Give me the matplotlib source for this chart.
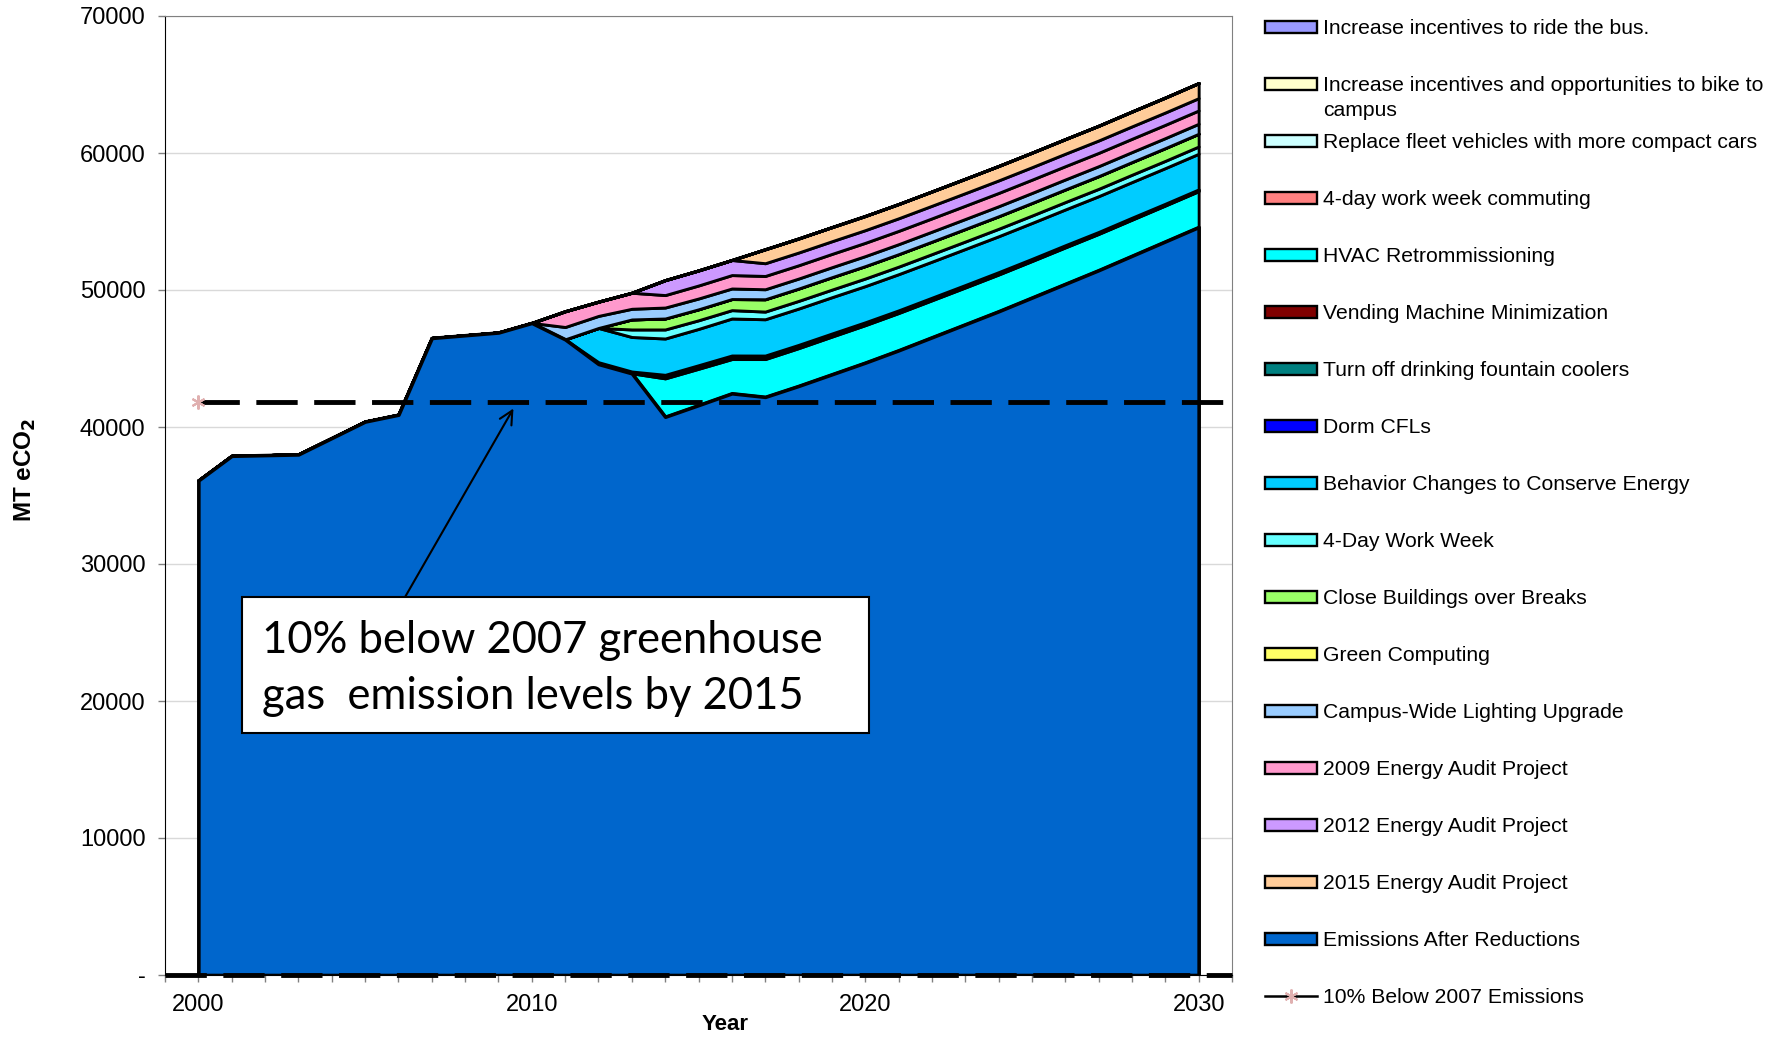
import matplotlib
matplotlib.use("Agg")
import matplotlib.pyplot as plt
from matplotlib.patches import Rectangle
from matplotlib.lines import Line2D

plt.rcParams['font.family'] = ['Liberation Sans', 'DejaVu Sans']

# ---- data (MT eCO2) ----
years = list(range(2000, 2031))

emissions_after = [36100, 37900, 37950, 38000, 39200, 40400, 40900, 46500, 46700, 46900,
                   47600, 46400, 44600, 43920, 40750, 41600, 42460, 42200, 43000, 43850,
                   44700, 45600, 46550, 47500, 48450, 49450, 50450, 51450, 52500, 53550, 54600]

pre = [0] * 10  # 2000-2009, no reductions yet
hvac = pre + [0, 0, 0, 0, 2800, 2650, 2500, 2760, 2755, 2750, 2735, 2720, 2700, 2685, 2680,
              2665, 2660, 2645, 2635, 2620, 2615]
vending = pre + [0, 0, 40, 40, 80, 80, 80, 80, 75, 70, 65, 60, 60, 55, 55, 50, 50, 45, 45, 40, 40]
fountain = pre + [0, 0, 40, 40, 80, 80, 80, 80, 75, 70, 65, 60, 60, 55, 55, 50, 50, 45, 45, 40, 40]
dorm_cfl = pre + [0, 0, 50, 50, 100, 100, 100, 95, 90, 85, 80, 75, 70, 70, 65, 60, 60, 55, 55, 50, 50]
behavior = pre + [0, 0, 2500, 2520, 2650, 2650, 2700, 2650, 2650, 2650, 2640, 2640, 2630, 2630,
                  2620, 2620, 2610, 2610, 2600, 2600, 2600]
four_day = pre + [0, 0, 0, 550, 660, 630, 610, 560, 560, 555, 555, 550, 550, 545, 545, 540, 540,
                  535, 535, 530, 530]
close_bldg = pre + [0, 0, 0, 730, 800, 800, 810, 900, 900, 905, 905, 910, 910, 915, 915, 920, 920,
                    925, 925, 930, 930]
green_comp = [0] * 31
lighting = pre + [0, 900, 880, 780, 800, 790, 770, 730, 730, 730, 730, 730, 730, 730, 730, 730,
                  730, 730, 730, 730, 730]
audit_2009 = pre + [0, 1150, 1040, 1170, 910, 950, 980, 970, 970, 970, 970, 970, 970, 970, 970,
                    970, 970, 970, 970, 970, 970]
audit_2012 = pre + [0, 0, 0, 0, 1090, 1100, 1100, 930, 930, 925, 925, 920, 920, 915, 915, 910,
                    910, 905, 905, 900, 900]
audit_2015 = pre + [0, 0, 0, 0, 0, 0, 0, 1020, 1025, 1030, 1035, 1040, 1045, 1050, 1055, 1060,
                    1065, 1075, 1085, 1090, 1100]
commute_4day = [0] * 31
fleet = [0] * 31
bike = [0] * 31
bus = [0] * 31

target_value = 41800  # 10% below 2007
target_start = 2000

# stacking order, bottom to top
stack = [
    ("Emissions After Reductions", emissions_after, "#0066CC"),
    ("HVAC Retrommissioning", hvac, "#00FFFF"),
    ("Vending Machine Minimization", vending, "#800000"),
    ("Turn off drinking fountain coolers", fountain, "#008080"),
    ("Dorm CFLs", dorm_cfl, "#0000FF"),
    ("Behavior Changes to Conserve Energy", behavior, "#00CCFF"),
    ("4-Day Work Week", four_day, "#66FFFF"),
    ("Close Buildings over Breaks", close_bldg, "#99FF66"),
    ("Green Computing", green_comp, "#FFFF66"),
    ("Campus-Wide Lighting Upgrade", lighting, "#99CCFF"),
    ("2009 Energy Audit Project", audit_2009, "#FF99CC"),
    ("2012 Energy Audit Project", audit_2012, "#CC99FF"),
    ("2015 Energy Audit Project", audit_2015, "#FFCC99"),
    ("4-day work week commuting", commute_4day, "#FF8080"),
    ("Replace fleet vehicles with more compact cars", fleet, "#CCFFFF"),
    ("Increase incentives and opportunities to bike to\ncampus", bike, "#FFFFCC"),
    ("Increase incentives to ride the bus.", bus, "#9999FF"),
]
color_of = {name: c for name, _, c in stack}

legend_order = [
    "Increase incentives to ride the bus.",
    "Increase incentives and opportunities to bike to\ncampus",
    "Replace fleet vehicles with more compact cars",
    "4-day work week commuting",
    "HVAC Retrommissioning",
    "Vending Machine Minimization",
    "Turn off drinking fountain coolers",
    "Dorm CFLs",
    "Behavior Changes to Conserve Energy",
    "4-Day Work Week",
    "Close Buildings over Breaks",
    "Green Computing",
    "Campus-Wide Lighting Upgrade",
    "2009 Energy Audit Project",
    "2012 Energy Audit Project",
    "2015 Energy Audit Project",
    "Emissions After Reductions",
]

W, H = 1782, 1037
AX_L, AX_R, AX_T, AX_B = 165, 1232, 16, 975
fig = plt.figure(figsize=(W / 100, H / 100), dpi=100)
ax = fig.add_axes([AX_L / W, 1 - AX_B / H, (AX_R - AX_L) / W, (AX_B - AX_T) / H])

polys = ax.stackplot(years, *[s[1] for s in stack], colors=[s[2] for s in stack],
                     edgecolor='black', linewidth=2.1, zorder=2)
# base series outline is the boldest one, keep it on top of the others
polys[0].set_linewidth(2.6)
polys[0].set_zorder(2.5)

# target line and zero line
dash = (8.5, 3.4)
ax.plot([target_start, 2031], [target_value, target_value], color='black', lw=3.5,
        dashes=dash, zorder=3, clip_on=False)
ax.plot([target_start], [target_value], linestyle='none', marker=(6, 2, 0), markersize=10,
        markeredgewidth=1.5, color='#E0B0B0', zorder=4)
ax.axhline(0, color='black', lw=3.5, dashes=dash, zorder=3, clip_on=False)

# callout
px_per_unit = (AX_B - AX_T) / 70000
def yv(py):
    return (AX_B - py) / px_per_unit

ax.annotate('', xy=(2009.45, 41350), xytext=(2006.2, yv(597)),
            arrowprops=dict(arrowstyle='->', color='black', lw=1.5, mutation_scale=24,
                            shrinkA=0, shrinkB=0), zorder=5)
ax.add_patch(Rectangle((2001.3, yv(733)), 2020.1 - 2001.3, yv(597) - yv(733),
                       facecolor='white', edgecolor='black', lw=1.5, zorder=6))
ax.text(2001.92, yv(653), "10% below 2007 greenhouse", family='Lato',
        fontsize=31.4, va='baseline', ha='left', zorder=7)
ax.text(2001.92, yv(709), "gas  emission levels by 2015", family='Lato',
        fontsize=31.4, va='baseline', ha='left', zorder=7)

# axes styling
ax.set_xlim(1999, 2031)
ax.set_ylim(0, 70000)
ax.set_yticks(range(0, 70001, 10000))
ax.set_yticklabels(['-'] + [str(v) for v in range(10000, 70001, 10000)])
ax.set_xticks([2000, 2010, 2020, 2030])
ax.set_xticks(range(1999, 2032), minor=True)
ax.tick_params(axis='both', which='both', direction='out', length=5, width=1,
               color='#808080', labelsize=17)
ax.tick_params(axis='y', pad=9)
ax.tick_params(axis='x', pad=9)
ax.grid(axis='y', color='#D9D9D9', lw=1)
ax.set_axisbelow(True)
for side in ['top', 'right']:
    ax.spines[side].set_color('#808080')
ax.spines['left'].set_color('black')
ax.spines['bottom'].set_color('black')

ax.set_xlabel('Year', fontsize=16, fontweight='bold')
ax.xaxis.set_label_coords((725 - AX_L) / (AX_R - AX_L), (AX_B - 1024) / (AX_B - AX_T))
ax.xaxis.label.set_va('center')
ax.set_ylabel(r'MT eCO$_\mathbf{2}$', fontsize=17.5, fontweight='bold')
ax.yaxis.set_label_coords((25 - AX_L) / (AX_R - AX_L), (AX_B - 470) / (AX_B - AX_T))
ax.yaxis.label.set_va('center')

# legend drawn by hand, one row every 57 px
row0, step = 26.7, 57.0
for i, name in enumerate(legend_order):
    yc = row0 + i * step
    fig.add_artist(Rectangle((1265 / W, 1 - (yc + 6) / H), 52 / W, 12 / H,
                             transform=fig.transFigure, facecolor=color_of[name],
                             edgecolor='black', lw=1.7))
    lines = name.split('\n')
    for j, ln in enumerate(lines):
        fig.text(1323 / W, 1 - (yc + j * 24.5) / H, ln, fontsize=15.2,
                 va='center_baseline', ha='left')

yc = row0 + len(legend_order) * step
fig.add_artist(Line2D([1265 / W, 1317 / W], [1 - yc / H, 1 - yc / H],
                      transform=fig.transFigure, color='black', lw=1.8))
fig.add_artist(Line2D([1291 / W], [1 - yc / H], transform=fig.transFigure,
                      linestyle='none', marker=(6, 2, 0), markersize=10,
                      markeredgewidth=1.5, color='#E0B0B0'))
fig.text(1323 / W, 1 - yc / H, "10% Below 2007 Emissions", fontsize=15.2,
         va='center_baseline', ha='left')

fig.savefig('out.png', dpi=100)
